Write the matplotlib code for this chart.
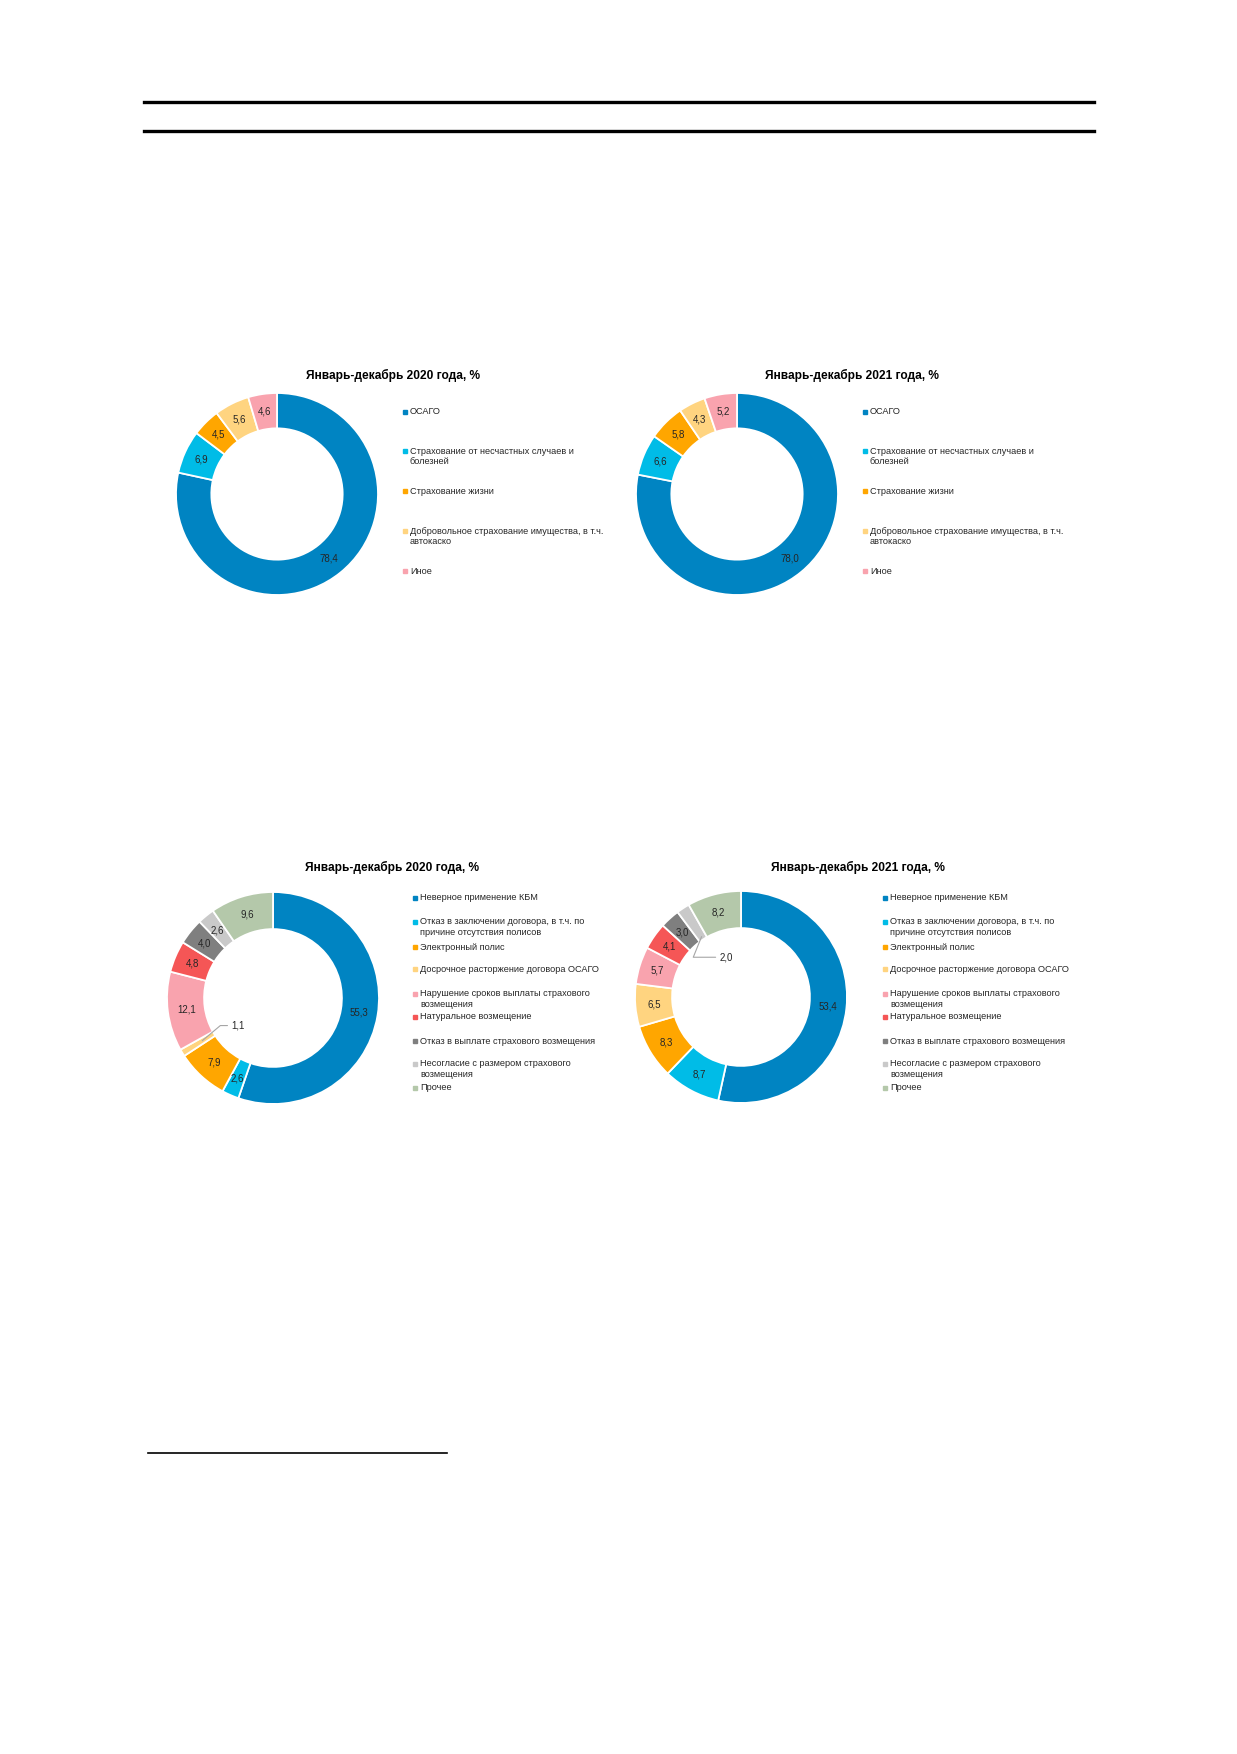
import matplotlib
matplotlib.use("Agg")
import matplotlib.pyplot as plt
from matplotlib.lines import Line2D
import numpy as np

plt.rcParams['font.family'] = ['Liberation Sans', 'DejaVu Sans']

W, H = 1237, 1754

# ---------------- data ----------------
title_2020 = "Январь-декабрь 2020 года, %"
title_2021 = "Январь-декабрь 2021 года, %"

ins_labels = ["ОСАГО",
              "Страхование от несчастных случаев и\nболезней",
              "Страхование жизни",
              "Добровольное страхование имущества, в т.ч.\nавтокаско",
              "Иное"]
ins_2020 = [78.4, 6.9, 4.5, 5.6, 4.6]
ins_2021 = [78.0, 6.6, 5.8, 4.3, 5.2]
ins_colors = ["#0084C2", "#00BCE7", "#FFA600", "#FFD480", "#F9A3AE"]

cmp_labels = ["Неверное применение КБМ",
              "Отказ в заключении договора, в т.ч. по\nпричине отсутствия полисов",
              "Электронный полис",
              "Досрочное расторжение договора ОСАГО",
              "Нарушение сроков выплаты страхового\nвозмещения",
              "Натуральное возмещение",
              "Отказ в выплате страхового возмещения",
              "Несогласие с размером страхового\nвозмещения",
              "Прочее"]
cmp_2020 = [55.3, 2.6, 7.9, 1.1, 12.1, 4.8, 4.0, 2.6, 9.6]
cmp_2021 = [53.4, 8.7, 8.3, 6.5, 5.7, 4.1, 3.0, 2.0, 8.2]
cmp_colors = ["#0084C2", "#00BCE7", "#FFA600", "#FFD480", "#F9A3AE",
              "#F55656", "#7F7F7F", "#C9C9C9", "#B4C8AA"]

fig = plt.figure(figsize=(W / 100, H / 100), dpi=100)
fig.patch.set_facecolor("white")


def fx(x):
    return x / W


def fy(y):
    return 1 - y / H


# header rules
for y in (102, 131):
    fig.add_artist(Line2D([fx(144), fx(1094)], [fy(y), fy(y)], color="black", lw=2.4))
# footnote rule
fig.add_artist(Line2D([fx(148), fx(447)], [fy(1453), fy(1453)], color="black", lw=1.2))


def fmt(v):
    return f"{v:.1f}".replace(".", ",")


def donut(cx, cy, r, values, colors, title, tx, ty, small=None):
    ax = fig.add_axes([fx(cx - r), fy(cy + r), 2 * r / W, 2 * r / H])
    wedges, _ = ax.pie(values, colors=colors, startangle=90, counterclock=False,
                       radius=1.0, wedgeprops=dict(width=0.35, edgecolor="white", linewidth=1.3))
    ax.set_aspect("equal")
    ax.set_xlim(-1, 1)
    ax.set_ylim(-1, 1)
    ax.axis("off")
    for i, (w, v) in enumerate(zip(wedges, values)):
        ang = np.deg2rad((w.theta1 + w.theta2) / 2)
        if small is not None and i in small:
            rr, angB, lx, ly = small[i]
            ax.annotate(fmt(v), xy=(rr * np.cos(ang), rr * np.sin(ang)),
                        xytext=(lx, ly), fontsize=7, color="#262626", va="center", ha="left",
                        arrowprops=dict(arrowstyle="-", color="#A6A6A6", lw=0.8,
                                        connectionstyle=f"angle,angleA=0,angleB={angB},rad=0",
                                        shrinkA=1, shrinkB=0))
            continue
        d = 0.825
        ax.text(d * np.cos(ang), d * np.sin(ang), fmt(v), ha="center", va="center",
                fontsize=7, color="#262626")
    fig.text(fx(tx), fy(ty), title, ha="center", va="center", fontsize=8.6,
             fontweight="bold", color="black")


def legend(mx, ys, labels, colors):
    for y, lab, c in zip(ys, labels, colors):
        fig.add_artist(Line2D([fx(mx)], [fy(y)], marker="s", markersize=2.2, color=c, lw=0))
        for k, line in enumerate(lab.split("\n")):
            fig.text(fx(mx + 5), fy(y + k * 10.5), line, ha="left", va="center",
                     fontsize=6.6, color="#262626")


top_ys = [412, 451, 491, 531, 571]
bot_ys = [898, 922, 947, 969, 994, 1017, 1041, 1064, 1088]

donut(277, 494, 101, ins_2020, ins_colors, title_2020, 393, 375)
legend(405, top_ys, ins_labels, ins_colors)
donut(737, 494, 101, ins_2021, ins_colors, title_2021, 852, 375)
legend(865, top_ys, ins_labels, ins_colors)

donut(273, 998, 106, cmp_2020, cmp_colors, title_2020, 392, 867,
      small={3: (0.78, 40, -0.39, -0.26)})
legend(415, bot_ys, cmp_labels, cmp_colors)
donut(741, 997, 106, cmp_2021, cmp_colors, title_2021, 858, 867,
      small={7: (0.68, 68, -0.2, 0.375)})
legend(885, bot_ys, cmp_labels, cmp_colors)

fig.savefig("out.png", dpi=100, facecolor="white")
